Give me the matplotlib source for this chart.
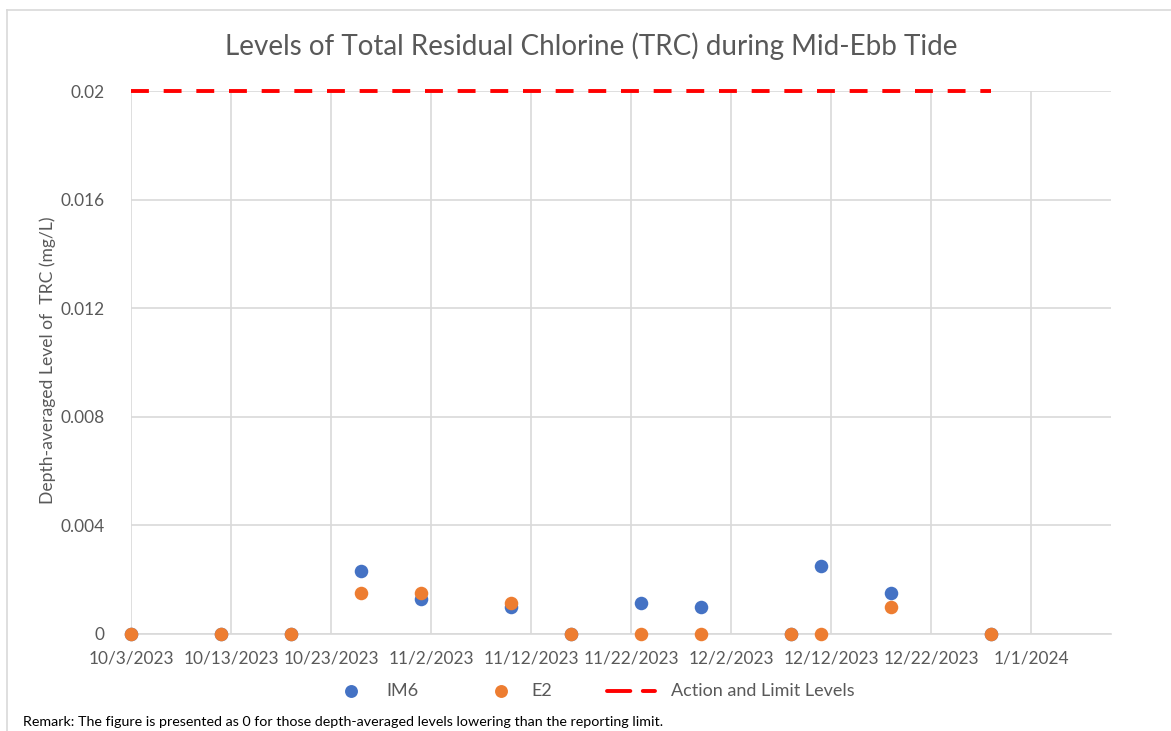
import matplotlib
matplotlib.use("Agg")
import matplotlib.pyplot as plt
from matplotlib.lines import Line2D
import pandas as pd

# ---- data ----
dates = ["2023-10-03", "2023-10-12", "2023-10-19", "2023-10-26", "2023-11-01",
         "2023-11-10", "2023-11-16", "2023-11-23", "2023-11-29", "2023-12-08",
         "2023-12-11", "2023-12-18", "2023-12-28"]
im6 = [0, 0, 0, 0.00232, 0.0013, 0.0010, 0, 0.00115, 0.0010, 0, 0.0025, 0.0015, 0]
e2 = [0, 0, 0, 0.0015, 0.0015, 0.00115, 0, 0, 0, 0, 0, 0.0010, 0]
limit_dates = ["2023-10-03", "2023-12-28"]
limit_values = [0.02, 0.02]
y_ticks = [0, 0.004, 0.008, 0.012, 0.016, 0.02]
y_tick_labels = ["0", "0.004", "0.008", "0.012", "0.016", "0.02"]
x_start, x_end = "2023-10-03", "2024-01-09"
series_names = ["IM6", "E2", "Action and Limit Levels"]

title = "Levels of Total Residual Chlorine (TRC) during Mid-Ebb Tide"
ylabel = "Depth-averaged Level of  TRC (mg/L)"
remark = "Remark: The figure is presented as 0 for those depth-averaged levels lowering than the reporting limit."

plt.rcParams['font.family'] = ['Lato', 'DejaVu Sans']
TXT = "#595959"
GRID = "#D9D9D9"
C_IM6 = "#4472C4"
C_E2 = "#ED7D31"
C_LIM = "#FF0000"
W, H = 1171, 731

def fx(px):
    return px / W

def fy(py):
    return 1 - py / H

fig = plt.figure(figsize=(W / 100, H / 100), dpi=100)
ax = fig.add_axes([fx(131), fy(634), (1111 - 131) / W, (634 - 91) / H])

d = pd.to_datetime(dates)
ld = pd.to_datetime(limit_dates)

ax.plot(ld, limit_values, color=C_LIM, lw=2.8, dashes=(4.6, 3.8), zorder=4,
        dash_capstyle='butt', clip_on=False)
ax.scatter(d, im6, s=95, color=C_IM6, zorder=5, linewidths=0, clip_on=False)
ax.scatter(d, e2, s=95, color=C_E2, zorder=6, linewidths=0, clip_on=False)

ax.set_xlim(pd.Timestamp(x_start), pd.Timestamp(x_end))
ax.set_ylim(0, 0.02)
ax.set_yticks(y_ticks)
ax.set_yticklabels(y_tick_labels)
xt = pd.date_range("2023-10-03", "2024-01-01", freq="10D")
ax.set_xticks(xt)
ax.set_xticklabels([f"{t.month}/{t.day}/{t.year}" for t in xt])

ax.grid(True, color=GRID, lw=1.2)
ax.set_axisbelow(True)
for s in ["top", "right", "left"]:
    ax.spines[s].set_visible(False)
ax.spines["bottom"].set_color(GRID)
ax.spines["bottom"].set_linewidth(1.2)
ax.tick_params(length=0, labelsize=12.4, colors=TXT)
ax.tick_params(axis='x', pad=12)
ax.tick_params(axis='y', pad=19)

fig.text(fx(48), fy(360), ylabel, rotation=90, ha="center", va="center",
         fontsize=12.6, color=TXT)
fig.text(fx(591), fy(46), title, ha="center", va="center", fontsize=20, color=TXT)

# legend (Excel style, drawn manually)
ly = fy(691)
fig.add_artist(Line2D([fx(351)], [ly], ls="none", marker="o", ms=9.3, color=C_IM6, mec="none"))
fig.text(fx(386), ly, series_names[0], ha="left", va="center", fontsize=13, color=TXT)
fig.add_artist(Line2D([fx(501)], [ly], ls="none", marker="o", ms=9.3, color=C_E2, mec="none"))
fig.text(fx(531), ly, series_names[1], ha="left", va="center", fontsize=13, color=TXT)
fig.add_artist(Line2D([fx(607), fx(655)], [ly, ly], color=C_LIM, lw=2.8, dashes=(6, 3.2),
                      dash_capstyle='round'))
fig.text(fx(671), ly, series_names[2], ha="left", va="center", fontsize=13, color=TXT)

fig.text(fx(23), fy(722), remark, ha="left", va="center", fontsize=10.3, color="black")

# chart border
fig.add_artist(Line2D([fx(7), fx(7)], [fy(10), 0], color=GRID, lw=1.2))
fig.add_artist(Line2D([fx(7), 1], [fy(10), fy(10)], color=GRID, lw=1.2))

fig.savefig("out.png", dpi=100)
